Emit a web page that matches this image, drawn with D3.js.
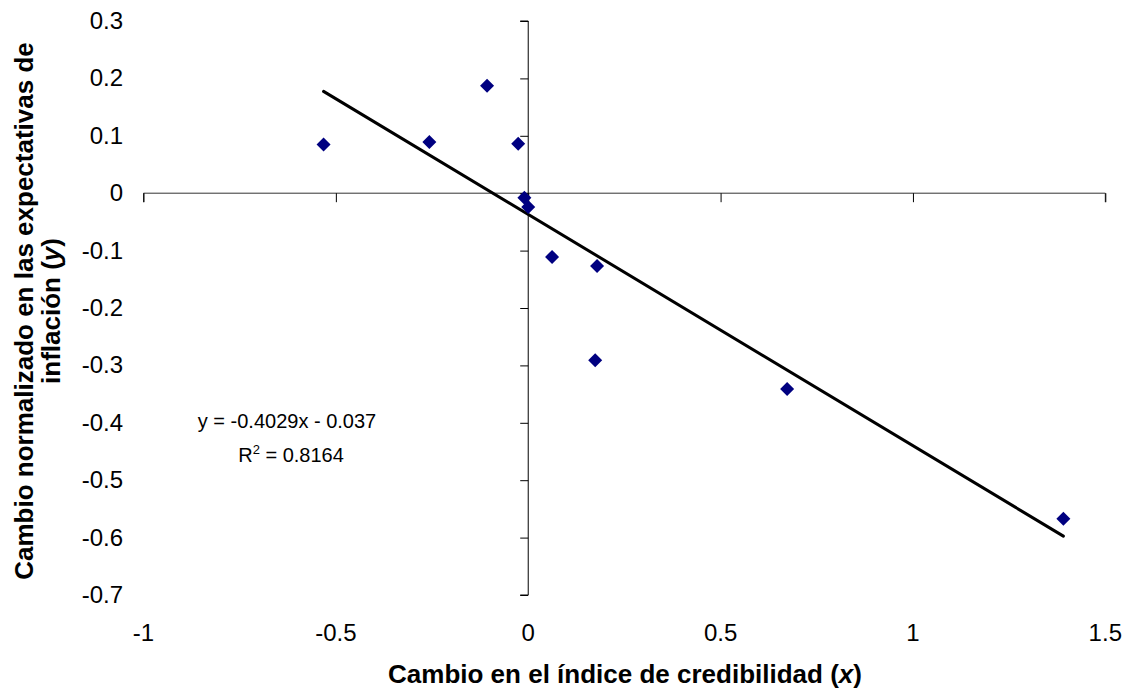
<!DOCTYPE html>
<html>
<head>
<meta charset="utf-8">
<script src="https://cdn.jsdelivr.net/npm/d3@7"></script>
<style>
  body { margin: 0; background: #fff; }
  svg { display: block; font-family: 'Liberation Sans', Arial, sans-serif; }
</style>
</head>
<body>
<div id="chart"></div>
<script>
const width = 1136;
const height = 692;

// credibility index change (x) vs normalized inflation expectations change (y)
const xValues = [-0.532, -0.257, -0.107, -0.026, -0.010, 0.0, 0.062, 0.179, 0.174, 0.673, 1.391];
const yValues = [0.085, 0.089, 0.187, 0.086, -0.008, -0.024, -0.111, -0.127, -0.291, -0.341, -0.567];
const xTicks = [-1, -0.5, 0, 0.5, 1, 1.5];
const yTicks = [0.3, 0.2, 0.1, 0, -0.1, -0.2, -0.3, -0.4, -0.5, -0.6, -0.7];
const slope = -0.4029;
const intercept = -0.037;
const r2 = 0.8164;

const points = xValues.map((x, i) => ({x: x, y: yValues[i]}));

const xScale = d3.scaleLinear().domain([-1, 1.5]).range([143.5, 1105.3]);
const yScale = d3.scaleLinear().domain([-0.7, 0.3]).range([595, 21]);

// plain hyphen for negatives, like the original
const fmt = (d) => String(d);

const svg = d3.select('#chart')
  .append('svg')
    .attr('width', width)
    .attr('height', height);

// x axis crosses at y = 0, labels sit at the bottom
const xAxis = svg.append('g')
  .attr('transform', `translate(0,${yScale(0)})`)
  .call(d3.axisBottom(xScale).tickValues(xTicks).tickSize(9).tickFormat(''));
xAxis.select('.domain').attr('stroke', '#333').attr('d', `M${xScale(-1)},9V0H${xScale(1.5)}V9`);
xAxis.selectAll('.tick line').attr('stroke', '#000');

svg.append('g')
  .selectAll('text')
  .data(xTicks)
  .enter().append('text')
    .attr('x', (d) => xScale(d))
    .attr('y', 641)
    .attr('text-anchor', 'middle')
    .attr('font-size', '24px')
    .text(fmt);

// y axis crosses at x = 0, labels sit at the left
const yAxis = svg.append('g')
  .attr('transform', `translate(${xScale(0)},0)`)
  .call(d3.axisLeft(yScale).tickValues(yTicks).tickSize(8).tickFormat(''));
yAxis.select('.domain').attr('stroke', '#000').attr('d', `M-8,${yScale(0.3)}H0V${yScale(-0.7)}H-8`);
yAxis.selectAll('.tick line').attr('stroke', '#000');

svg.append('g')
  .selectAll('text')
  .data(yTicks)
  .enter().append('text')
    .attr('x', 123)
    .attr('y', (d) => yScale(d) + 8)
    .attr('text-anchor', 'end')
    .attr('font-size', '24px')
    .text(fmt);

// trend line over the data range
const xExtent = d3.extent(xValues);
svg.append('line')
  .attr('x1', xScale(xExtent[0]))
  .attr('y1', yScale(slope * xExtent[0] + intercept))
  .attr('x2', xScale(xExtent[1]))
  .attr('y2', yScale(slope * xExtent[1] + intercept))
  .attr('stroke', '#000')
  .attr('stroke-width', 3)
  .attr('stroke-linecap', 'round');

// markers
svg.append('g')
  .selectAll('path')
  .data(points)
  .enter().append('path')
    .attr('d', 'M0,-7L7,0L0,7L-7,0Z')
    .attr('transform', (d) => `translate(${xScale(d.x)},${yScale(d.y)})`)
    .attr('fill', '#000080');

// equation
svg.append('text')
  .attr('x', 287)
  .attr('y', 428)
  .attr('text-anchor', 'middle')
  .attr('font-size', '20px')
  .text(`y = ${slope}x - ${Math.abs(intercept)}`);
const r2Text = svg.append('text')
  .attr('x', 291)
  .attr('y', 462)
  .attr('text-anchor', 'middle')
  .attr('font-size', '20px');
r2Text.append('tspan').text('R');
r2Text.append('tspan').attr('dy', -8).attr('font-size', '13px').text('2');
r2Text.append('tspan').attr('dy', 8).text(` = ${r2}`);

// axis titles
const xTitle = svg.append('text')
  .attr('x', 625)
  .attr('y', 683)
  .attr('text-anchor', 'middle')
  .attr('font-size', '26px')
  .attr('font-weight', 'bold');
xTitle.append('tspan').text('Cambio en el índice de credibilidad (');
xTitle.append('tspan').attr('font-style', 'italic').text('x');
xTitle.append('tspan').text(')');

const yTitle = svg.append('g')
  .attr('transform', 'translate(0,311) rotate(-90)')
  .attr('font-size', '26px')
  .attr('font-weight', 'bold')
  .attr('text-anchor', 'middle');
yTitle.append('text')
  .attr('x', 0)
  .attr('y', 33)
  .text('Cambio normalizado en las expectativas de');
const yLine2 = yTitle.append('text')
  .attr('x', 0)
  .attr('y', 60);
yLine2.append('tspan').text('inflación (');
yLine2.append('tspan').attr('font-style', 'italic').text('y');
yLine2.append('tspan').text(')');
</script>
</body>
</html>
